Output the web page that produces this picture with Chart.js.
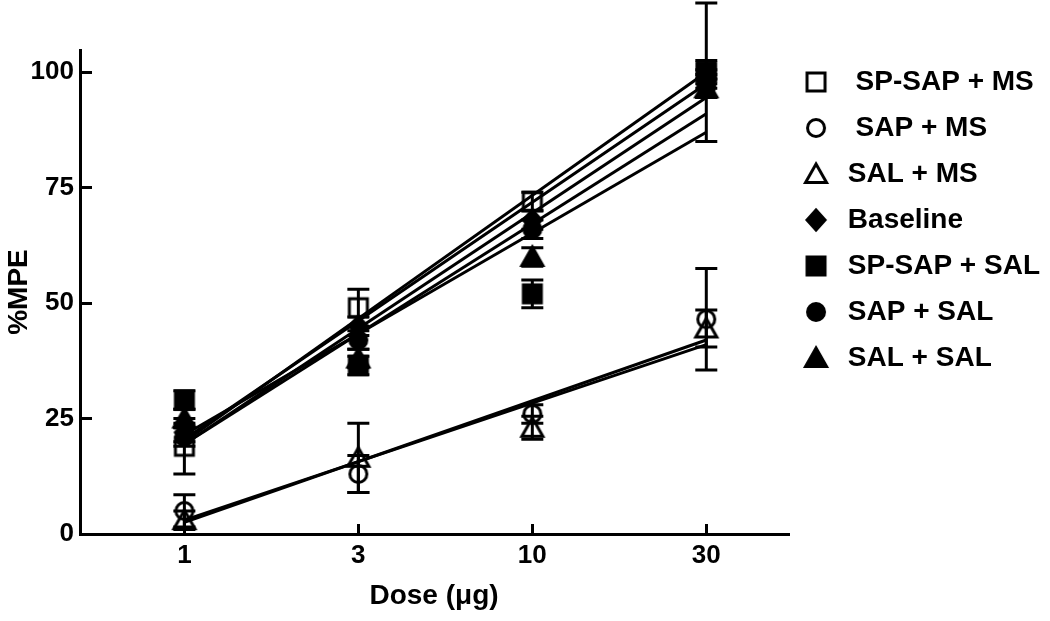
<!DOCTYPE html>
<html>
<head>
<meta charset="utf-8">
<title>%MPE vs dose</title>
<script src="https://cdn.jsdelivr.net/npm/chart.js@4.4.1/dist/chart.umd.min.js"></script>
<style>
    html, body { margin: 0; padding: 0; background: #fff; }
    #wrap { width: 1050px; height: 621px; }
</style>
</head>
<body>
<div id="wrap"><canvas id="doseChart" width="1050" height="621"></canvas></div>
<script>
// Dose-response chart (%MPE vs dose)

// Axis labels
const doseLabels = ['1', '3', '10', '30'];
const yTicks = [0, 25, 50, 75, 100];

// Series names (legend order)
const seriesNames = ['SP-SAP + MS', 'SAP + MS', 'SAL + MS', 'Baseline', 'SP-SAP + SAL', 'SAP + SAL', 'SAL + SAL'];

// Mean %MPE at each dose, and error (SEM)
const spSapMs     = [19, 49, 72, 100];
const spSapMsErr  = [6, 4, 2, 15];
const sapMs       = [5, 13, 26, 46.5];
const sapMsErr    = [3.5, 4, 2, 11];
const salMs       = [3, 16.5, 23, 44.5];
const salMsErr    = [2, 7.5, 2.5, 4];
const baseline    = [22, 45, 68, 98.5];
const baselineErr = [2, 2, 2, 2];
const spSapSal    = [29, 36.5, 52, 100];
const spSapSalErr = [2, 2, 3, 2.5];
const sapSal      = [21, 42, 66, 97];
const sapSalErr   = [2, 2, 2, 2.5];
const salSal      = [25, 38, 60, 96.5];
const salSalErr   = [2, 2, 2, 2];

// Regression lines: fitted value at dose 1 and at dose 30
const fitAt1  = [20, 2.5, 3, 20.5, 21.5, 19.5, 19.5];
const fitAt30 = [100, 42, 41, 97.5, 87, 94.5, 91];

const FONT = '"Liberation Sans", Arial, Helvetica, sans-serif';

// Build marker images (open / filled symbols like the original plot)
function makeMarker(shape, filled) {
    const s = 28;
    const c = document.createElement('canvas');
    c.width = s;
    c.height = s;
    const g = c.getContext('2d');
    const m = s / 2;
    g.lineWidth = 3;
    g.strokeStyle = '#000';
    g.fillStyle = '#000';
    g.lineJoin = 'miter';
    g.beginPath();
    if (shape === 'square') {
        g.rect(m - 9, m - 9, 18, 18);
    } else if (shape === 'circle') {
        g.arc(m, m, 8.5, 0, Math.PI * 2);
    } else if (shape === 'triangle') {
        g.moveTo(m, m - 10);
        g.lineTo(m + 10.5, m + 8.5);
        g.lineTo(m - 10.5, m + 8.5);
        g.closePath();
    } else if (shape === 'diamond') {
        g.moveTo(m, m - 10);
        g.lineTo(m + 9, m);
        g.lineTo(m, m + 10);
        g.lineTo(m - 9, m);
        g.closePath();
    }
    if (filled) g.fill();
    g.stroke();
    return c;
}

const markers = [
    makeMarker('square', false),
    makeMarker('circle', false),
    makeMarker('triangle', false),
    makeMarker('diamond', true),
    makeMarker('square', true),
    makeMarker('circle', true),
    makeMarker('triangle', true)
];

const seriesValues = [spSapMs, sapMs, salMs, baseline, spSapSal, sapSal, salSal];
const seriesErrors = [spSapMsErr, sapMsErr, salMsErr, baselineErr, spSapSalErr, sapSalErr, salSalErr];

// Point datasets (these make up the legend)
const pointSets = seriesNames.map((name, i) => ({
    label: name,
    data: seriesValues[i].map((v, j) => ({ x: j, y: v })),
    errors: seriesErrors[i],
    showLine: false,
    pointStyle: markers[i],
    pointRadius: 9,
    backgroundColor: '#000',
    borderColor: '#000',
    order: 0
}));

// Regression line datasets
const fitSets = seriesNames.map((name, i) => ({
    label: name + ' fit',
    isFit: true,
    data: [{ x: 0, y: fitAt1[i] }, { x: doseLabels.length - 1, y: fitAt30[i] }],
    showLine: true,
    borderColor: '#000',
    borderWidth: 3,
    pointRadius: 0,
    fill: false,
    order: 1
}));

// Error bars drawn from dataset values through the scales
const errorBars = {
    id: 'errorBars',
    beforeDatasetsDraw(chart) {
        const { ctx, scales: { x, y } } = chart;
        ctx.save();
        ctx.strokeStyle = '#000';
        ctx.lineWidth = 3;
        chart.data.datasets.forEach(ds => {
            if (!ds.errors) return;
            ds.data.forEach((p, i) => {
                const e = ds.errors[i];
                const px = x.getPixelForValue(p.x);
                const top = y.getPixelForValue(p.y + e);
                const bot = y.getPixelForValue(p.y - e);
                ctx.beginPath();
                ctx.moveTo(px, top);
                ctx.lineTo(px, bot);
                ctx.moveTo(px - 11, top);
                ctx.lineTo(px + 11, top);
                ctx.moveTo(px - 11, bot);
                ctx.lineTo(px + 11, bot);
                ctx.stroke();
            });
        });
        ctx.restore();
    }
};

const axisFont = { family: FONT, size: 26, weight: 'bold' };
const titleFont = { family: FONT, size: 28, weight: 'bold' };

new Chart(document.getElementById('doseChart').getContext('2d'), {
    type: 'scatter',
    data: { datasets: pointSets.concat(fitSets) },
    options: {
        responsive: false,
        animation: false,
        devicePixelRatio: 1,
        layout: { padding: { top: 50, right: 0, bottom: 0, left: 0 } },
        plugins: {
            tooltip: { enabled: false },
            legend: {
                display: true,
                position: 'right',
                align: 'start',
                labels: {
                    usePointStyle: true,
                    boxWidth: 20,
                    boxHeight: 20,
                    padding: 18,
                    color: '#000',
                    font: { family: FONT, size: 28, weight: 'bold' },
                    filter: (item, data) => !data.datasets[item.datasetIndex].isFit,
                    generateLabels: function(chart) {
                        const items = Chart.defaults.plugins.legend.labels.generateLabels(chart);
                        return items.map(item => {
                            const pad = item.datasetIndex < 2 ? '\u00a0\u00a0' : '\u00a0';
                            item.text = pad + item.text;
                            return item;
                        });
                    }
                }
            }
        },
        scales: {
            x: {
                type: 'linear',
                min: -0.6,
                max: 3.47,
                afterBuildTicks: s => { s.ticks = doseLabels.map((_, i) => ({ value: i })); },
                afterFit: s => { s.height = 87; },
                ticks: {
                    callback: (v, i) => doseLabels[i],
                    font: axisFont,
                    color: '#000',
                    padding: 16,
                    maxRotation: 0,
                    autoSkip: false
                },
                grid: {
                    display: true,
                    drawOnChartArea: false,
                    drawTicks: true,
                    tickLength: -10,
                    color: '#000',
                    lineWidth: 3
                },
                border: { display: true, color: '#000', width: 3 },
                title: {
                    display: true,
                    text: 'Dose (μg)',
                    font: titleFont,
                    color: '#000',
                    padding: { top: 0, bottom: 8 }
                }
            },
            y: {
                min: 0,
                max: 104.8,
                afterBuildTicks: s => { s.ticks = yTicks.map(v => ({ value: v })); },
                afterFit: s => { s.width = 80; },
                ticks: {
                    font: axisFont,
                    color: '#000',
                    padding: 18
                },
                grid: {
                    display: true,
                    drawOnChartArea: false,
                    drawTicks: true,
                    tickLength: -12,
                    color: '#000',
                    lineWidth: 3
                },
                border: { display: true, color: '#000', width: 3 },
                title: {
                    display: true,
                    text: '%MPE',
                    font: titleFont,
                    color: '#000',
                    padding: { top: 2, bottom: 0 }
                }
            }
        }
    },
    plugins: [errorBars]
});
</script>
</body>
</html>
